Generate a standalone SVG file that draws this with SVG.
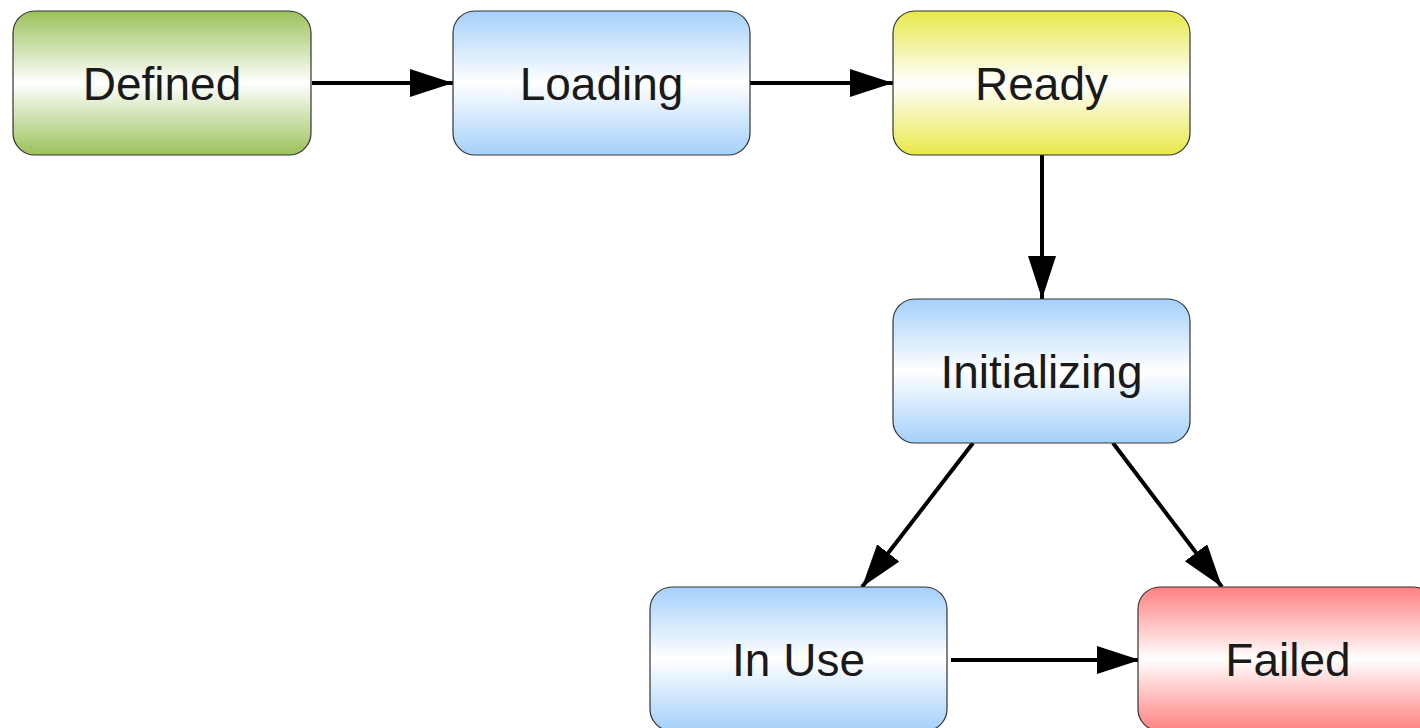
<svg xmlns="http://www.w3.org/2000/svg" width="1420" height="728" viewBox="0 0 1420 728">
<defs>
<linearGradient id="gGreen" x1="0" y1="0" x2="0" y2="1">
<stop offset="0" stop-color="#9bc15a"/><stop offset="0.5" stop-color="#ffffff"/><stop offset="1" stop-color="#9bc15a"/>
</linearGradient>
<linearGradient id="gBlue" x1="0" y1="0" x2="0" y2="1">
<stop offset="0" stop-color="#a4d0fa"/><stop offset="0.5" stop-color="#ffffff"/><stop offset="1" stop-color="#a4d0fa"/>
</linearGradient>
<linearGradient id="gYellow" x1="0" y1="0" x2="0" y2="1">
<stop offset="0" stop-color="#e8e84a"/><stop offset="0.5" stop-color="#ffffff"/><stop offset="1" stop-color="#e8e84a"/>
</linearGradient>
<linearGradient id="gRed" x1="0" y1="0" x2="0" y2="1">
<stop offset="0" stop-color="#ff8080"/><stop offset="0.5" stop-color="#ffffff"/><stop offset="1" stop-color="#ff8080"/>
</linearGradient>
<marker id="arr" markerUnits="userSpaceOnUse" markerWidth="43" markerHeight="28" viewBox="0 0 43 28" refX="43" refY="14" orient="auto">
<path d="M0,0 L43,14 L0,28 Z" fill="#000"/>
</marker>
</defs>
<style>
.box{stroke:#333;stroke-width:1.2}
.lbl{font-family:"Liberation Sans",Arial,sans-serif;font-size:46px;fill:#1a1a1a;text-anchor:middle}
.edge{stroke:#000;stroke-width:4;fill:none;marker-end:url(#arr)}
</style>
<g id="connectors">
<line class="edge" x1="312" y1="83" x2="453" y2="83"/>
<line class="edge" x1="750" y1="83" x2="893" y2="83"/>
<line class="edge" x1="1042" y1="155" x2="1042" y2="299"/>
<line class="edge" x1="973" y1="443" x2="862" y2="587"/>
<line class="edge" x1="1113" y1="443" x2="1222" y2="587"/>
<line class="edge" x1="951" y1="660" x2="1140" y2="660"/>
</g>
<g id="defined"><rect class="box" x="13" y="11" width="298" height="144" rx="22" fill="url(#gGreen)"/><text class="lbl" x="162" y="99.5">Defined</text></g>
<g id="loading"><rect class="box" x="453" y="11" width="297" height="144" rx="22" fill="url(#gBlue)"/><text class="lbl" x="601.5" y="99.5">Loading</text></g>
<g id="ready"><rect class="box" x="893" y="11" width="297" height="144" rx="22" fill="url(#gYellow)"/><text class="lbl" x="1041.5" y="99.5">Ready</text></g>
<g id="initializing"><rect class="box" x="893" y="299" width="297" height="144" rx="22" fill="url(#gBlue)"/><text class="lbl" x="1041.5" y="387.5">Initializing</text></g>
<g id="inuse"><rect class="box" x="650" y="587" width="297" height="144" rx="22" fill="url(#gBlue)"/><text class="lbl" x="798.5" y="675.5">In Use</text></g>
<g id="failed"><rect class="box" x="1138" y="587" width="297" height="144" rx="22" fill="url(#gRed)"/><text class="lbl" x="1288" y="675.5">Failed</text></g>
</svg>
